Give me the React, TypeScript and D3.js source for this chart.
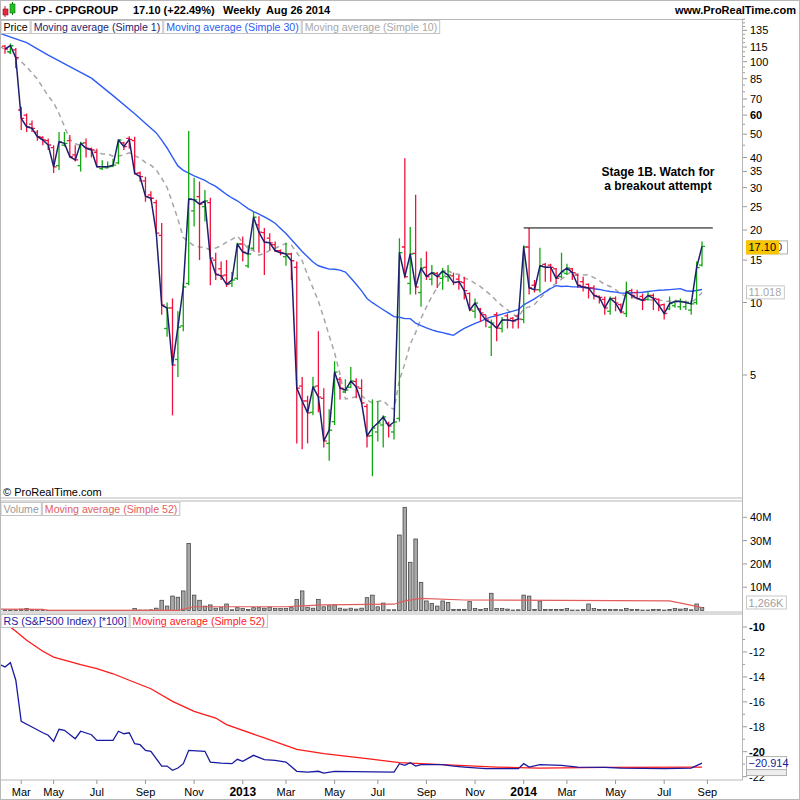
import React from "react";
import * as d3 from "d3";

// Weekly bars, first bar = week of 5 Mar 2012, last = week of 25 Aug 2014
const firstWeek = "2012-03-05";

const opens = [
  116, 110, 112, 63, 60, 55, 51, 48.5, 47, 44,
  37, 45, 47, 41, 37, 46, 43.5, 42, 36, 36.2,
  36.8, 38, 46, 48, 47, 34.5, 32, 28, 26, 19,
  7.8, 9.5, 5.8, 8, 12, 24, 27.5, 25, 26, 15,
  13.8, 13, 12.0, 12.6, 17.5, 14.2, 16.8, 21, 19.5, 18.5,
  17.4, 16.4, 15.5, 15.9, 14, 4.5, 3.9, 3.5, 4.5, 4.0,
  2.6, 3.2, 4.8, 4.25, 4.45, 4.7, 4.4, 3.7, 2.8, 2.9,
  3.1, 3.15, 2.9, 3.3, 17, 12, 16, 11, 14, 12.5,
  13.2, 12.6, 12.8, 12.9, 12.5, 12.1, 10.9, 9.2, 9.4, 8.9,
  7.9, 8.9, 7.8, 8.8, 8.6, 8.8, 8.5, 17, 11.8, 11.3,
  14.4, 14.3, 13.8, 12.8, 13.2, 13.8, 13.0, 12.2, 11.9, 11.5,
  10.6, 10.3, 9.2, 10.4, 9.8, 9.0, 11.2, 11.0, 10.6, 10.3,
  10.7, 10.3, 9.8, 9.4, 9.7, 9.6, 9.6, 9.3, 10.0, 14.3,
];

const highs = [
  117, 119, 114, 65, 61, 57, 52, 49, 48, 45,
  51, 51, 49.6, 45, 46.5, 48, 44, 43.5, 39, 38.5,
  39.5, 47.5, 46.5, 49, 48.8, 35, 33.3, 29, 26.7, 21.4,
  10, 10.4, 9.2, 12, 51.5, 33, 31.8, 29.3, 27.2, 16.1,
  14.8, 15, 13.4, 17.7, 18.8, 17.3, 23.9, 22.8, 20.4, 19.4,
  17.9, 16.6, 17.7, 16.1, 14.8, 4.9, 4.1, 4.9, 7.6, 4.4,
  3.6, 5.7, 4.9, 4.8, 5.4, 4.85, 4.8, 3.8, 3.96, 3.9,
  3.4, 3.2, 3.3, 18.5, 39.7, 20.6, 28, 15.3, 16.3, 14.3,
  13.4, 13.9, 14.3, 13.3, 13.0, 12.8, 11, 10.4, 9.5, 8.9,
  8.5, 9.1, 8.7, 9.0, 8.7, 9.0, 17.3, 20.4, 12.4, 16.9,
  14.6, 14.5, 13.9, 16.1, 14.5, 13.9, 13.2, 12.8, 12.0, 11.8,
  10.7, 10.6, 10.6, 10.6, 9.9, 12.2, 11.4, 11.3, 10.9, 11.1,
  10.9, 10.4, 9.9, 10.6, 10.2, 10.4, 10.2, 10.2, 14.8, 17.9,
];

const lows = [
  108, 108, 94, 52, 51, 51, 47, 45, 43, 34.5,
  35.5, 44.5, 40, 38.5, 35, 40, 40, 36.5, 35.5, 36,
  36.5, 37.5, 43, 43.5, 34, 31.7, 26.2, 26.5, 19.2, 8.9,
  7.2, 3.4, 4.9, 7.6, 11.8, 20.7, 15, 21.7, 11.8, 12.4,
  12.4, 11.6, 11.6, 12.4, 14.8, 13.9, 16.5, 16.1, 13.0, 16.5,
  16.2, 15.7, 14.2, 12.4, 2.6, 2.46, 2.6, 3.4, 3.5, 2.5,
  2.2, 3.1, 3.96, 4.2, 4.4, 4.0, 3.8, 2.5, 1.9, 2.65,
  2.5, 2.75, 2.7, 3.2, 12.6, 10.8, 10.8, 9.6, 12.4, 11.8,
  11.5, 11.3, 12.2, 11.8, 11.3, 10.3, 9.2, 8.6, 8.3, 7.9,
  6.0, 6.9, 7.5, 7.8, 7.8, 7.8, 8.2, 10.8, 11.0, 11.0,
  12.2, 12.2, 12.0, 12.6, 13.0, 12.4, 11.5, 11.1, 10.4, 10.3,
  9.9, 8.9, 8.9, 9.2, 9.0, 8.7, 10.4, 10.3, 9.3, 10.2,
  9.3, 9.2, 8.5, 9.3, 9.5, 9.3, 9.3, 8.9, 9.8, 14.1,
];

const closes = [
  112.9, 116.5, 104, 58.2, 53.7, 52.9, 48.8, 47.3, 45.1, 36.6,
  46.5, 45.8, 40.3, 39.1, 45.8, 43.7, 43.0, 36.6, 36.6, 36.6,
  37.2, 47.3, 44.4, 47.6, 34.4, 33.3, 27.6, 27.1, 19.4, 9.76,
  9.49, 5.5, 7.9, 11.6, 26.9, 26.7, 25.6, 26.4, 15.3, 13.1,
  12.9, 11.9, 12.4, 17.5, 16.2, 15.9, 22.6, 19.6, 17.8, 17.7,
  16.4, 16.1, 15.9, 14.9, 4.41, 3.90, 3.48, 4.46, 4.05, 2.66,
  2.95, 5.14, 4.41, 4.33, 4.72, 4.46, 3.83, 2.79, 3.01, 3.16,
  3.35, 3.07, 3.19, 16.1, 12.8, 15.9, 11.6, 13.9, 12.8, 13.3,
  12.8, 13.5, 13.0, 12.1, 12.2, 11.2, 9.31, 9.95, 9.05, 8.46,
  8.22, 7.83, 8.46, 8.46, 8.38, 8.54, 17.0, 11.5, 11.3, 14.2,
  14.0, 14.0, 12.6, 13.4, 13.9, 13.3, 11.8, 11.6, 11.5, 10.7,
  10.5, 9.49, 10.4, 9.95, 9.13, 11.1, 10.7, 10.4, 10.2, 10.7,
  10.4, 9.75, 9.0, 9.9, 10.1, 10.1, 10.0, 9.87, 13.96, 17.10,
];

// weekly volume, millions of shares
const volumes = [
  0.3, 0.2, 0.3, 0.6, 0.9, 0.5, 0.1, 0.1, 0.1, 0.1,
  0.1, 0.1, 0.1, 0.1, 0.1, 0.1, 0.1, 0.1, 0.1, 0.1,
  0.1, 0.1, 0.1, 0.1, 0.8, 0.2, 0.2, 0.3, 1.0, 4.4,
  1.9, 6.2, 5.7, 8.4, 28.8, 6.6, 4.4, 1.9, 2.4, 1.0,
  1.2, 2.8, 0.3, 1.2, 0.8, 0.4, 1.2, 1.2, 1.0, 1.5,
  0.8, 0.8, 0.8, 1.2, 4.8, 8.4, 1.4, 1.0, 4.8, 1.6,
  2.0, 2.4, 1.0, 0.6, 1.0, 0.6, 1.0, 5.5, 6.6, 1.6,
  3.2, 0.3, 0.3, 32.4, 44.3, 20.7, 30.7, 12.1, 4.1, 3.0,
  1.9, 4.1, 3.5, 0.5, 0.5, 0.5, 3.8, 0.8, 0.5, 0.8,
  7.4, 0.8, 0.8, 0.6, 0.2, 0.3, 6.6, 6.2, 0.5, 4.1,
  0.5, 0.5, 0.5, 0.5, 0.8, 0.2, 0.2, 0.5, 2.8, 0.8,
  0.5, 0.5, 0.5, 0.5, 0.3, 0.9, 0.5, 0.5, 0.2, 0.2,
  0.5, 0.5, 0.2, 0.5, 0.8, 0.6, 0.8, 0.3, 2.8, 1.266,
];

// Averages for the opening weeks, which need history from before the first bar: [week, value]
const ma30Lead: [number, number][] = [
  [-1, 131.5], [0, 129], [4, 120], [8, 106.6], [12, 95.5],
  [16, 85.5], [20, 72.3], [24, 60.8], [28, 50.6],
];
const ma10Lead: [number, number][] = [
  [-1, 116], [2, 104.6], [4, 95.4], [6, 84.7], [8, 72],
];

// 52-week average of volume (millions): [week, value]
const volMa52: [number, number][] = [
  [-1, 0.6], [7, 0.5], [8, 0.05], [32, 0.05], [35, 1.6], [52, 1.6], [54, 1.9],
  [59, 2.4], [72, 2.7], [74, 4.1], [77, 5.2], [85, 4.5], [123, 4.1], [126, 2.7], [129, 1.2],
];

// Relative strength vs S&P500 (*100): [week, value]
const rsLine: [number, number][] = [
  [-1, -13.0], [0, -13.2], [1, -12.86], [2, -14.27], [3, -17.56], [5, -18.02], [7, -18.48],
  [8, -18.68], [9, -19.17], [10, -18.2], [11, -18.28], [13, -18.96], [14, -18.36], [16, -18.64],
  [17, -19.09], [20, -19.09], [21, -18.36], [22, -18.56], [23, -18.48], [24, -19.36], [25, -19.44],
  [26, -19.89], [27, -19.97], [29, -21.15], [30, -21.15], [31, -21.49], [32, -21.31], [33, -20.96],
  [34, -19.89], [37, -19.97], [38, -20.83], [40, -20.91], [42, -20.96], [43, -20.61], [44, -20.77],
  [46, -20.29], [48, -20.64], [50, -20.69], [52, -20.83], [54, -21.57], [56, -21.63], [58, -21.57],
  [59, -21.71], [61, -21.57], [72, -21.63], [73, -20.96], [74, -21.09], [75, -20.88], [76, -21.15],
  [77, -21.04], [81, -21.04], [83, -21.15], [85, -21.23], [89, -21.36], [95, -21.36], [96, -20.96],
  [97, -21.23], [99, -21.04], [103, -21.09], [106, -21.23], [111, -21.25], [114, -21.31],
  [122, -21.36], [127, -21.31], [129, -20.914],
];
const rsMa52: [number, number][] = [
  [-1, -9.3], [1, -10.0], [2, -10.34], [4, -11.07], [7, -11.95], [9, -12.41], [14, -13.02],
  [17, -13.34], [20, -13.75], [23, -14.27], [27, -14.95], [31, -15.96], [35, -16.76], [39, -17.3],
  [41, -17.83], [48, -18.9], [54, -19.81], [59, -20.16], [67, -20.56], [73, -20.88], [81, -21.04],
  [91, -21.23], [99, -21.31], [111, -21.25], [129, -21.23],
];

const priceTicks = [135, 115, 100, 85, 70, 60, 50, 40, 35, 30, 25, 20, 15, 10, 5];
const priceMinor = [150, 145, 140, 130, 125, 120, 110, 105, 95, 90, 80, 75, 65, 55, 45];
const priceBold = [60];
const volTicks = [10, 20, 30, 40];
const rsTicks = [-10, -12, -14, -16, -18, -20, -22];
const rsBold = [-10, -20];
const monthTicks = [
  "2012-03-26", "2012-05-07", "2012-07-02", "2012-09-03", "2012-11-05",
  "2013-01-07", "2013-03-04", "2013-05-06", "2013-07-01", "2013-09-02", "2013-11-04",
  "2014-01-06", "2014-03-03", "2014-05-05", "2014-07-07", "2014-09-01",
];

// resistance drawn at the January 2014 high
const resistanceWeek = 97;
const resistanceFrom = 96;
const resistanceTo = 131;

// ---- layout ----
const AX = 742; // right edge of the plotting area
const PRICE = { top: 19.5, bottom: 498 };
const VOL = { top: 501, bottom: 612 };
const RS = { top: 614, bottom: 780 };

const FONT = "Arial, 'Liberation Sans', sans-serif";
const NARROW = "'Liberation Sans Narrow', 'Arial Narrow', Arial, sans-serif";
const LEGEND_SIZE = 10.6;

const C = {
  up: "#12a812",
  down: "#f2103c",
  close: "#1e1e6e",
  ma30: "#2d5cf6",
  ma10: "#a6a6a6",
  frame: "#b8b8b8",
  volFill: "#a8a8a8",
  volStroke: "#3a3a3a",
  volMa: "#e25c5c",
  rs: "#1a1aa0",
  rsMa: "#ff1a1a",
};

let canvasCtx: CanvasRenderingContext2D | null = null;
function textWidth(text: string, font: string) {
  if (!canvasCtx) canvasCtx = document.createElement("canvas").getContext("2d");
  if (!canvasCtx) return text.length * 6;
  canvasCtx.font = font;
  return canvasCtx.measureText(text).width;
}

function sma(values: number[], n: number): [number, number][] {
  const out: [number, number][] = [];
  for (let i = n - 1; i < values.length; i++) {
    out.push([i, d3.mean(values.slice(i - n + 1, i + 1)) as number]);
  }
  return out;
}

function Legend({ x, y, items }: { x: number; y: number; items: { text: string; color: string }[] }) {
  let cx = x;
  const h = 13;
  return (
    <g>
      {items.map((it, k) => {
        const w = textWidth(it.text, `${LEGEND_SIZE}px Arial`) + 5;
        const gx = cx;
        cx += w + 1;
        return (
          <g key={k}>
            <rect x={gx + 0.5} y={y + 0.5} width={w} height={h} fill="#fff" stroke="#c4c4c4" />
            <text x={gx + 3} y={y + 11} fontSize={LEGEND_SIZE} fill={it.color} fontFamily={FONT}>
              {it.text}
            </text>
          </g>
        );
      })}
    </g>
  );
}

function ValueBox({ y, text, color, bg = "#fff", stroke = "#b0b0b0", w }: {
  y: number; text?: string; color?: string; bg?: string; stroke?: string; w?: number;
}) {
  const width = w ?? textWidth(text ?? "", "11px Arial") + 5;
  return (
    <g>
      <rect x={746.5} y={y - 6.5} width={width} height={13} fill={bg} stroke={stroke} />
      {text ? (
        <text x={748.5} y={y + 4} fontSize={11} fill={color} fontFamily={FONT}>{text}</text>
      ) : null}
    </g>
  );
}

export default function App() {
  const n = closes.length;
  const x = d3.scaleLinear().domain([0, n - 1]).range([5, 702]);
  const yP = d3.scaleLog().domain([5, 100]).range([375, 61.7]);
  const yV = d3.scaleLinear().domain([0, 40]).range([610.5, 517.3]);
  const yR = d3.scaleLinear().domain([-10, -20]).range([627, 751.7]);

  const weekMs = 7 * 864e5;
  const t0 = Date.parse(firstWeek);
  const weekOf = (d: string) => Math.round((Date.parse(d) - t0) / weekMs);

  const pLine = d3.line<[number, number]>().x((d) => x(d[0])).y((d) => yP(d[1]));
  const vLine = d3.line<[number, number]>().x((d) => x(d[0])).y((d) => yV(d[1]));
  const rLine = d3.line<[number, number]>().x((d) => x(d[0])).y((d) => yR(d[1]));

  const closePts: [number, number][] = closes.map((c, i) => [i, c]);
  const ma30 = [...ma30Lead, ...sma(closes, 30)];
  const ma10 = [...ma10Lead, ...sma(closes, 10)];

  const last = closes[n - 1];
  const prev = closes[n - 2];
  const change = last / prev - 1;
  const ma10Last = ma10[ma10.length - 1][1];
  const rsLast = rsLine[rsLine.length - 1][1];
  const rsMaLast = rsMa52[rsMa52.length - 1][1];
  const volLast = volumes[n - 1];

  const fmtMonth = d3.timeFormat("%b");
  const fmtYear = d3.timeFormat("%Y");

  return (
    <svg
      width={800}
      height={800}
      viewBox="0 0 800 800"
      style={{ position: "absolute", left: 0, top: 0, background: "#fff" }}
      fontFamily={FONT}
    >
      <defs>
        <clipPath id="clipPrice"><rect x={0} y={PRICE.top} width={AX} height={PRICE.bottom - PRICE.top} /></clipPath>
        <clipPath id="clipVol"><rect x={0} y={VOL.top} width={AX} height={VOL.bottom - VOL.top} /></clipPath>
        <clipPath id="clipRs"><rect x={0} y={RS.top} width={AX} height={RS.bottom - RS.top} /></clipPath>
      </defs>
      <rect x={0} y={0} width={800} height={800} fill="#fff" />

      {/* header */}
      <g>
        <line x1={5} y1={6} x2={5} y2={17} stroke="#c0102a" strokeWidth={1} />
        <rect x={3} y={9} width={5} height={6} fill="#e8283c" stroke="#801020" strokeWidth={0.6} />
        <line x1={12.5} y1={2} x2={12.5} y2={15} stroke="#0a7a0a" strokeWidth={1} />
        <rect x={10} y={4} width={5} height={9} fill="#22c022" stroke="#0a6a0a" strokeWidth={0.6} />
        <text y={13.5} fontSize={11} fontWeight="bold" fill="#000">
          <tspan x={23}>CPP - CPPGROUP</tspan>
          <tspan x={133}>{`${d3.format(".2f")(last)} (${d3.format("+.2%")(change)})`}</tspan>
          <tspan x={223}>Weekly</tspan>
          <tspan x={266}>Aug 26 2014</tspan>
        </text>
        <text x={796} y={13.5} fontSize={11} fontWeight="bold" textAnchor="end" fill="#000">
          www.ProRealTime.com
        </text>
      </g>

      {/* ---------- price panel ---------- */}
      <g clipPath="url(#clipPrice)">
        <path d={pLine(ma10) ?? ""} fill="none" stroke={C.ma10} strokeWidth={1.5} strokeDasharray="5,4" />
        <path d={pLine(ma30) ?? ""} fill="none" stroke={C.ma30} strokeWidth={1.4} />
        {closes.map((c, i) => {
          const col = c >= opens[i] ? C.up : C.down;
          const xi = x(i);
          return (
            <g key={i} stroke={col} strokeWidth={1.3}>
              <line x1={xi} x2={xi} y1={yP(highs[i])} y2={yP(lows[i])} />
              <line x1={xi - 3} x2={xi} y1={yP(opens[i])} y2={yP(opens[i])} />
              <line x1={xi} x2={xi + 3} y1={yP(c)} y2={yP(c)} />
            </g>
          );
        })}
        <path d={pLine(closePts) ?? ""} fill="none" stroke={C.close} strokeWidth={1.5} strokeLinejoin="round" />
        <line
          x1={x(resistanceFrom)}
          x2={x(resistanceTo)}
          y1={yP(highs[resistanceWeek])}
          y2={yP(highs[resistanceWeek])}
          stroke="#000"
          strokeWidth={1}
        />
        <text x={658} y={176} fontSize={12} fontWeight="bold" textAnchor="middle" fill="#000">Stage 1B. Watch for</text>
        <text x={658} y={190} fontSize={12} fontWeight="bold" textAnchor="middle" fill="#000">a breakout attempt</text>
        <text x={3} y={496} fontSize={11} fill="#000">© ProRealTime.com</text>
      </g>
      <rect x={0.5} y={PRICE.top} width={AX} height={PRICE.bottom - PRICE.top} fill="none" stroke={C.frame} />
      <Legend
        x={0.5}
        y={PRICE.top + 0.5}
        items={[
          { text: "Price", color: "#000" },
          { text: "Moving average (Simple 1)", color: C.close },
          { text: "Moving average (Simple 30)", color: C.ma30 },
          { text: "Moving average (Simple 10)", color: "#a8a8a8" },
        ]}
      />

      {/* price axis */}
      <g fontFamily={NARROW} fontSize={11}>
        {priceMinor.map((v) => (
          <line key={v} x1={AX} x2={AX + 3} y1={yP(v)} y2={yP(v)} stroke="#999" />
        ))}
        {priceTicks.map((v) => (
          <g key={v}>
            <line x1={AX} x2={AX + 5} y1={yP(v)} y2={yP(v)} stroke="#999" />
            <text
              x={750}
              y={yP(v) + 4}
              fill="#000"
              fontWeight={priceBold.includes(v) ? "bold" : "normal"}
              fontFamily={priceBold.includes(v) ? FONT : NARROW}
            >
              {v}
            </text>
          </g>
        ))}
      </g>
      <ValueBox y={yP(ma10Last)} text={d3.format(".3f")(ma10Last)} color="#a8a8a8" stroke="#c8c8c8" />
      <ValueBox y={yP(last) + 1} text={d3.format(".3f")(last)} color={C.close} w={41} />
      <ValueBox y={yP(last) + 1} text={d3.format(".2f")(last)} color="#000" bg="#f7c600" stroke="#f7c600" w={32} />

      {/* ---------- volume panel ---------- */}
      <g clipPath="url(#clipVol)">
        {volumes.map((v, i) => (
          <rect
            key={i}
            x={x(i) - 1.8}
            width={3.6}
            y={yV(v)}
            height={Math.max(0, yV(0) - yV(v))}
            fill={C.volFill}
            stroke={C.volStroke}
            strokeWidth={0.7}
          />
        ))}
        <path d={vLine(volMa52) ?? ""} fill="none" stroke={C.volMa} strokeWidth={1.2} />
      </g>
      <rect x={0.5} y={VOL.top} width={AX} height={VOL.bottom - VOL.top} fill="none" stroke={C.frame} />
      <Legend
        x={0.5}
        y={VOL.top + 1}
        items={[
          { text: "Volume", color: "#9a9a9a" },
          { text: "Moving average (Simple 52)", color: "#e06060" },
        ]}
      />
      <g fontFamily={NARROW} fontSize={11}>
        {volTicks.map((v) => (
          <g key={v}>
            <line x1={AX} x2={AX + 5} y1={yV(v)} y2={yV(v)} stroke="#999" />
            <text x={750} y={yV(v) + 4} fill="#000">{`${v}M`}</text>
          </g>
        ))}
      </g>
      <ValueBox
        y={Math.min(yV(volLast), VOL.bottom - 9.5)}
        text={`${d3.format(",")(Math.round(volLast * 1000))}K`}
        color="#a0a0a0"
        stroke="#c8c8c8"
      />

      {/* ---------- relative strength panel ---------- */}
      <g clipPath="url(#clipRs)">
        <path d={rLine(rsMa52) ?? ""} fill="none" stroke={C.rsMa} strokeWidth={1.3} />
        <path d={rLine(rsLine) ?? ""} fill="none" stroke={C.rs} strokeWidth={1.3} />
      </g>
      <rect x={0.5} y={RS.top} width={AX} height={RS.bottom - RS.top} fill="none" stroke={C.frame} />
      <Legend
        x={0.5}
        y={RS.top}
        items={[
          { text: "RS (S&P500 Index) [*100]", color: C.rs },
          { text: "Moving average (Simple 52)", color: C.rsMa },
        ]}
      />
      <g fontSize={11}>
        {d3.range(-10, -23, -1).map((v) => (
          <line key={v} x1={AX} x2={AX + (v % 2 === 0 ? 5 : 3)} y1={yR(v)} y2={yR(v)} stroke="#999" />
        ))}
        {rsTicks.map((v) => (
          <text
            key={v}
            x={749}
            y={yR(v) + 4}
            fill="#000"
            fontWeight={rsBold.includes(v) ? "bold" : "normal"}
            fontFamily={rsBold.includes(v) ? FONT : NARROW}
          >
            {v}
          </text>
        ))}
      </g>
      {/* average's marker sits under the RS value box */}
      <ValueBox y={yR(rsMaLast) + 2} bg="#eeeeee" stroke="#b0b0b0" w={40} />
      <ValueBox y={yR(rsLast)} text={d3.format(".3f")(rsLast)} color={C.rs} w={40} />

      {/* ---------- time axis ---------- */}
      <g>
        {monthTicks.map((d) => {
          const date = new Date(d + "T00:00:00");
          const isYear = date.getMonth() === 0;
          const xi = x(weekOf(d));
          return (
            <g key={d}>
              <line x1={xi} x2={xi} y1={RS.bottom} y2={RS.bottom + 4} stroke="#999" />
              <text
                x={xi}
                y={796}
                textAnchor="middle"
                fontSize={isYear ? 12 : 11}
                fontWeight={isYear ? "bold" : "normal"}
                fill="#000"
              >
                {isYear ? fmtYear(date) : fmtMonth(date)}
              </text>
            </g>
          );
        })}
      </g>

      {/* right axis line and outer frame */}
      <line x1={AX + 0.5} x2={AX + 0.5} y1={PRICE.top} y2={RS.bottom} stroke={C.frame} />
      <rect x={0.5} y={0.5} width={799} height={799} fill="none" stroke={C.frame} />
    </svg>
  );
}
